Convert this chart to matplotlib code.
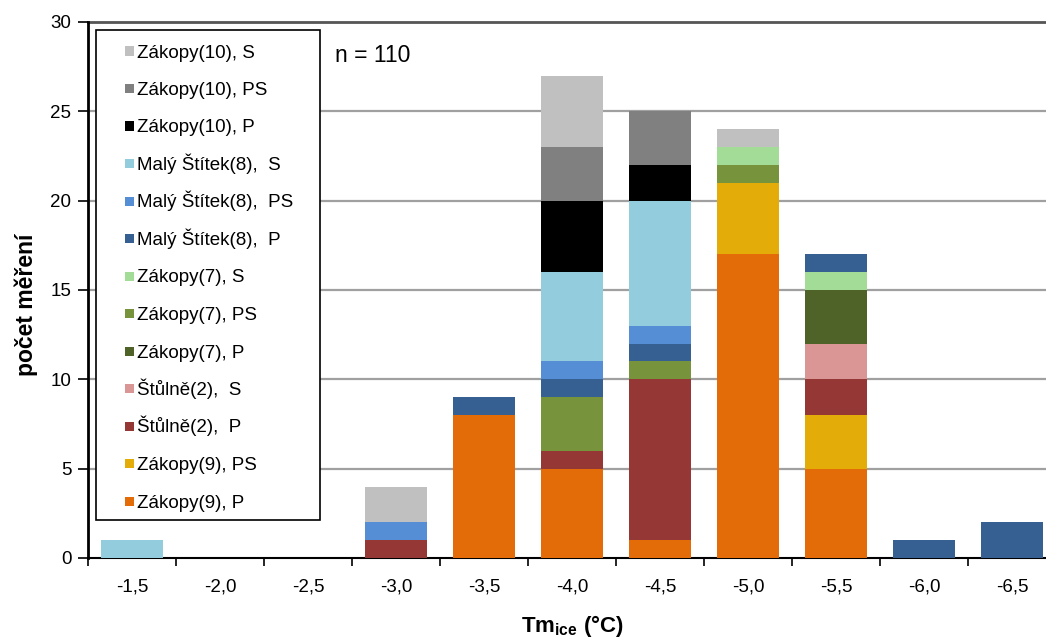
import matplotlib
matplotlib.use("Agg")
import matplotlib.pyplot as plt
from matplotlib.patches import Rectangle
import numpy as np

plt.rcParams['font.family'] = ['Liberation Sans', 'DejaVu Sans']

categories = ['-1,5', '-2,0', '-2,5', '-3,0', '-3,5', '-4,0', '-4,5', '-5,0', '-5,5', '-6,0', '-6,5']

# series in stacking order (bottom -> top)
series_names = [
    'Zákopy(9), P', 'Zákopy(9), PS', 'Štůlně(2),  P', 'Štůlně(2),  S',
    'Zákopy(7), P', 'Zákopy(7), PS', 'Zákopy(7), S',
    'Malý Štítek(8),  P', 'Malý Štítek(8),  PS', 'Malý Štítek(8),  S',
    'Zákopy(10), P', 'Zákopy(10), PS', 'Zákopy(10), S',
]
zakopy9_P   = [0, 0, 0, 0, 8, 5, 1, 17, 5, 0, 0]
zakopy9_PS  = [0, 0, 0, 0, 0, 0, 0, 4, 3, 0, 0]
stulne2_P   = [0, 0, 0, 1, 0, 1, 9, 0, 2, 0, 0]
stulne2_S   = [0, 0, 0, 0, 0, 0, 0, 0, 2, 0, 0]
zakopy7_P   = [0, 0, 0, 0, 0, 0, 0, 0, 3, 0, 0]
zakopy7_PS  = [0, 0, 0, 0, 0, 3, 1, 1, 0, 0, 0]
zakopy7_S   = [0, 0, 0, 0, 0, 0, 0, 1, 1, 0, 0]
maly8_P     = [0, 0, 0, 0, 1, 1, 1, 0, 1, 1, 2]
maly8_PS    = [0, 0, 0, 1, 0, 1, 1, 0, 0, 0, 0]
maly8_S     = [1, 0, 0, 0, 0, 5, 7, 0, 0, 0, 0]
zakopy10_P  = [0, 0, 0, 0, 0, 4, 2, 0, 0, 0, 0]
zakopy10_PS = [0, 0, 0, 0, 0, 3, 3, 0, 0, 0, 0]
zakopy10_S  = [0, 0, 0, 2, 0, 4, 0, 1, 0, 0, 0]

series_values = [zakopy9_P, zakopy9_PS, stulne2_P, stulne2_S,
                 zakopy7_P, zakopy7_PS, zakopy7_S,
                 maly8_P, maly8_PS, maly8_S,
                 zakopy10_P, zakopy10_PS, zakopy10_S]
colors = ['#E36C09', '#E3AC08', '#953735', '#D99694',
          '#4F6228', '#77933C', '#A2DC96',
          '#376092', '#558ED5', '#93CDDD',
          '#000000', '#808080', '#C0C0C0']

W, H = 1046, 641
fig = plt.figure(figsize=(W / 100, H / 100), dpi=100)
ax_l, ax_r, ax_t, ax_b = 88, 1056, 22, 558
ax = fig.add_axes([ax_l / W, 1 - ax_b / H, (ax_r - ax_l) / W, (ax_b - ax_t) / H])

x = np.arange(len(categories))
bottom = np.zeros(len(categories))
for name, vals, c in zip(series_names, series_values, colors):
    vals = np.array(vals, dtype=float)
    ax.bar(x, vals, width=0.70, bottom=bottom, color=c, label=name,
           edgecolor='none', zorder=3)
    bottom += vals

ax.set_xlim(-0.5, len(categories) - 0.5)
ax.set_ylim(0, 30)
ax.set_yticks(np.arange(0, 31, 5))
ax.set_yticklabels([str(v) for v in range(0, 31, 5)], fontsize=13.5)
for yv in range(5, 30, 5):
    ax.axhline(yv, color='#A0A0A0', lw=1.6, zorder=1)
ax.axhline(30, color='#555555', lw=2.0, zorder=1, clip_on=False)

ax.set_xticks(x)
ax.set_xticklabels(categories, fontsize=13.5)
ax.tick_params(axis='x', length=0, pad=15)
ax.set_xticks(np.arange(-0.5, len(categories), 1), minor=True)
ax.tick_params(axis='x', which='minor', length=6, width=1.2, direction='out')
ax.tick_params(axis='y', length=7, width=1.2, direction='out', pad=5)

for s in ['top', 'right']:
    ax.spines[s].set_visible(False)
ax.spines['left'].set_linewidth(2.0)
ax.spines['bottom'].set_linewidth(1.5)

fig.text(26 / W, 1 - 305 / H, 'počet měření', fontsize=16.5, fontweight='bold',
         rotation=90, ha='center', va='center')
fig.text(572 / W, 1 - 626 / H, r'Tm$_{\mathregular{ice}}$ (°C)', fontsize=16,
         fontweight='bold', ha='center', va='center')

fig.text(335 / W, 1 - 56 / H, 'n = 110', fontsize=16.5, ha='left', va='center')

# legend box drawn manually (top series listed first)
rect = Rectangle((96 / W, 1 - 520 / H), (320 - 96) / W, (520 - 30) / H,
                 transform=fig.transFigure, facecolor='white', edgecolor='black',
                 lw=1.2, zorder=5)
fig.add_artist(rect)
row0, step = 51.0, 37.5
for i, (name, c) in enumerate(zip(series_names[::-1], colors[::-1])):
    yc = row0 + i * step
    fig.add_artist(Rectangle((125 / W, 1 - (yc + 4.5) / H), 9 / W, 9 / H,
                             transform=fig.transFigure, facecolor=c,
                             edgecolor='none', zorder=6))
    fig.text(137 / W, 1 - (yc + 6.5) / H, name, fontsize=13.5, ha='left',
             va='baseline', zorder=7)

fig.savefig('out.png', dpi=100)
